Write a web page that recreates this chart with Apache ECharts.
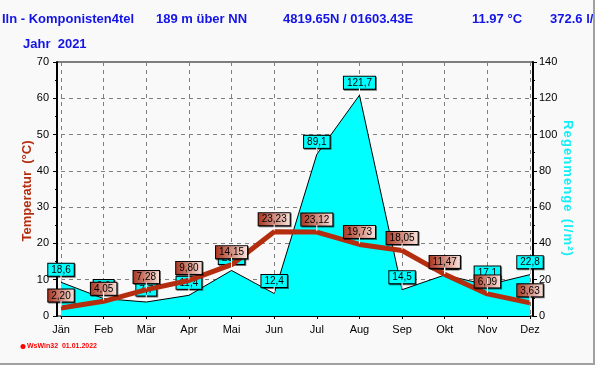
<!DOCTYPE html>
<html><head><meta charset="utf-8">
<script src="https://cdn.jsdelivr.net/npm/echarts@6/dist/echarts.min.js"></script>
<style>html,body{margin:0;padding:0;background:#f9f9f9}#c{width:595px;height:365px}</style>
</head><body><div id="c"></div>
<script>
const months = ['Jän','Feb','Mär','Apr','Mai','Jun','Jul','Aug','Sep','Okt','Nov','Dez'];
const temperature = [2.20,4.05,7.28,9.80,14.15,23.23,23.12,19.73,18.05,11.47,6.09,3.63];
const rain = [18.6,9.6,7.7,11.4,25.1,12.4,89.1,121.7,14.5,22.6,17.1,22.8];
const tempTicks = [0,10,20,30,40,50,60,70];
const rainTicks = [0,20,40,60,80,100,120,140];

const fmt = v => v.toFixed(2).replace('.', ',');
const fmt1 = v => v.toFixed(1).replace('.', ',');
const F = 'Liberation Sans, Arial, sans-serif';
const sp = (s, gap) => s.split('').join(gap);
const chart = echarts.init(document.getElementById('c'), null, {renderer:'canvas'});
const tempGrad = new echarts.graphic.LinearGradient(0,0,1,0,[{offset:0,color:'#a8321c'},{offset:1,color:'#fbe6e0'}]);
const leader = (axisIdx, arr) => ({
  type:'custom', yAxisIndex:axisIdx, z:5, silent:true,
  data: arr.map((v,i)=>[i,v]),
  renderItem:(p,api)=>{const c=api.coord([api.value(0),api.value(1)]);
    return {type:'line',shape:{x1:c[0],y1:c[1]-1,x2:c[0],y2:c[1]-7},style:{stroke:'#ffffff',lineWidth:1}};}
});
const lbl = (bg, f) => ({show:true,position:'top',distance:6,formatter:f,
  color:'#000',fontSize:10,lineHeight:11,fontFamily:F,backgroundColor:bg,borderColor:'#000',borderWidth:1,
  padding:[1,3,0,3],shadowColor:'rgba(0,0,0,0.55)',shadowOffsetX:1,shadowOffsetY:1,shadowBlur:0});
const T = (x, s) => ({type:'text',left:x,top:13,style:{text:s,font:'bold 13px '+F,fill:'#1414e6'}});
chart.setOption({
  backgroundColor:'#f9f9f9',
  animation:false,
  grid:{left:61,right:65,top:62,bottom:49},
  graphic:[
    {type:'rect',shape:{x:57,y:62,width:476,height:254},style:{fill:'none',stroke:'#000',lineWidth:1},z:0,silent:true},
    T(2,'Iln - Komponisten4tel'), T(156,'189 m über NN'), T(283,'4819.65N / 01603.43E'),
    T(472,'11.97 °C'), T(550,'372.6 l/m²'),
    {type:'text',left:23,top:38,style:{text:'Jahr  2021',font:'bold 13px '+F,fill:'#1414e6'}},
    {type:'circle',shape:{cx:23,cy:346.5,r:2.5},style:{fill:'#ff0000'}},
    {type:'text',left:27,top:343,style:{text:'WsWin32  01.01.2022',font:'bold 7px '+F,fill:'#ff0000'}},
    {type:'text',x:27,y:191,rotation:Math.PI/2,style:{text:'Temperatur  (°C)',font:'bold 13px '+F,fill:'#b42d0f',align:'center',verticalAlign:'middle'}},
    {type:'text',x:568,y:188,rotation:-Math.PI/2,style:{text:sp('Regenmenge','\u200A')+'  '+sp('(l/m²)','\u200A'),font:'bold 13px '+F,fill:'#10eef6',align:'center',verticalAlign:'middle'}},
    {type:'rect',shape:{x:593,y:0,width:2,height:365},style:{fill:'#a0a0a0'}},
    {type:'rect',shape:{x:0,y:363,width:595,height:2},style:{fill:'#a0a0a0'}}
  ],
  xAxis:{type:'category',data:months,boundaryGap:false,
    axisLine:{lineStyle:{color:'#000',width:1}},
    axisTick:{show:true,length:3,lineStyle:{color:'#000'}},
    axisLabel:{color:'#000',fontSize:11,fontFamily:F,margin:8},
    splitLine:{show:true,lineStyle:{color:'#808080',type:[4,4],width:1}}},
  yAxis:[
    {type:'value',min:tempTicks[0],max:tempTicks[tempTicks.length-1],interval:10,offset:4,
     axisLine:{show:true,lineStyle:{color:'#000',width:2}},
     axisTick:{show:true,length:4,lineStyle:{color:'#000'}},
     minorTick:{show:true,splitNumber:2,length:2,lineStyle:{color:'#000'}},
     axisLabel:{color:'#000',fontSize:11,fontFamily:F,margin:8},
     splitLine:{show:true,lineStyle:{color:'#808080',type:[4,4],width:1}}},
    {type:'value',min:rainTicks[0],max:rainTicks[rainTicks.length-1],interval:20,offset:3,position:'right',
     axisLine:{show:true,lineStyle:{color:'#000',width:2}},
     axisTick:{show:true,length:4,lineStyle:{color:'#000'}},
     minorTick:{show:true,splitNumber:2,length:2,lineStyle:{color:'#000'}},
     axisLabel:{color:'#000',fontSize:11,fontFamily:F,margin:6},
     splitLine:{show:false}}
  ],
  series:[
    {type:'line',name:'Regen',yAxisIndex:1,data:rain,symbol:'circle',symbolSize:1,showSymbol:true,z:2,
     itemStyle:{color:'rgba(0,0,0,0)'},
     lineStyle:{color:'#000',width:1},areaStyle:{color:'#00ffff',opacity:1},
     label:lbl('#00ffff', p=>fmt1(p.value))},
    {type:'line',name:'Temp',data:temperature,symbol:'circle',symbolSize:1,showSymbol:true,z:4,
     itemStyle:{color:'rgba(0,0,0,0)'},
     lineStyle:{color:'#b42d0f',width:5},
     label:lbl(tempGrad, p=>fmt(p.value))},
    leader(1, rain),
    leader(0, temperature)
  ]
});
</script></body></html>
